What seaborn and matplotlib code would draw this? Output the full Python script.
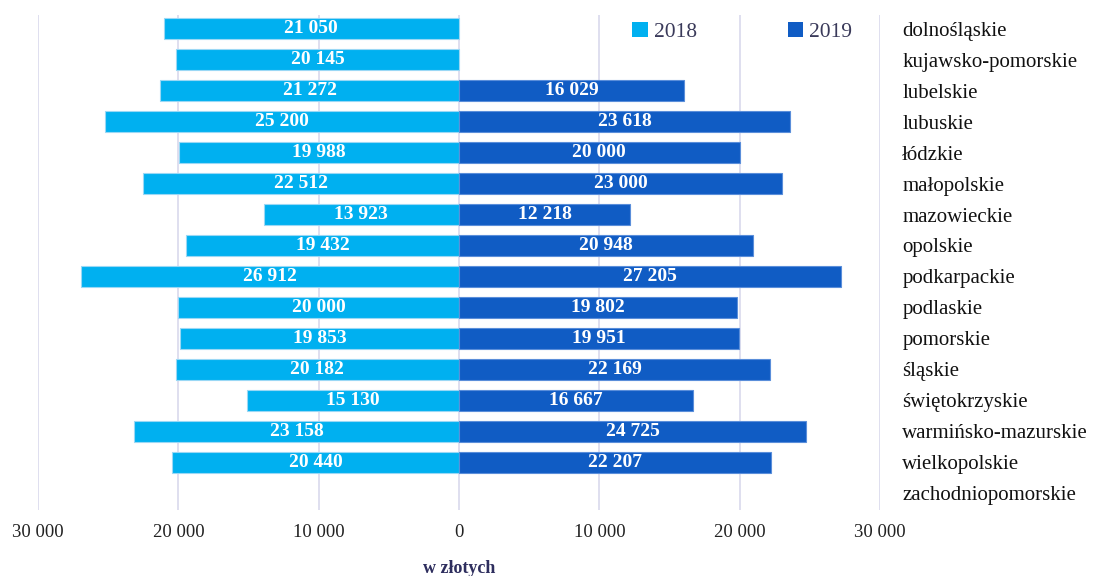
import numpy as np
import pandas as pd
import matplotlib
matplotlib.use("Agg")
import matplotlib.pyplot as plt
import seaborn as sns
from matplotlib.patches import Patch

# --- data ---
regions = ['dolnośląskie', 'kujawsko-pomorskie', 'lubelskie', 'lubuskie', 'łódzkie',
           'małopolskie', 'mazowieckie', 'opolskie', 'podkarpackie', 'podlaskie',
           'pomorskie', 'śląskie', 'świętokrzyskie', 'warmińsko-mazurskie',
           'wielkopolskie', 'zachodniopomorskie']
val_2018 = [21050, 20145, 21272, 25200, 19988, 22512, 13923, 19432, 26912, 20000,
            19853, 20182, 15130, 23158, 20440, np.nan]
val_2019 = [np.nan, np.nan, 16029, 23618, 20000, 23000, 12218, 20948, 27205, 19802,
            19951, 22169, 16667, 24725, 22207, np.nan]
years = ['2018', '2019']
colors = ['#00B0F0', '#105CC4']
ticks = [-30000, -20000, -10000, 0, 10000, 20000, 30000]

df = pd.DataFrame({'region': regions, 'v2018': val_2018, 'v2019': val_2019})
df['left'] = -df['v2018']

def fmt(v):
    return f"{int(round(abs(v))):,}".replace(",", " ")

sns.set_theme(style="white")
plt.rcParams['font.family'] = ['Liberation Serif', 'DejaVu Serif']

fig = plt.figure(figsize=(11.09, 5.76), dpi=100)
ax = fig.add_axes([38 / 1109, 1 - 510 / 576, (880 - 38) / 1109, (510 - 15) / 576])

for col, c in [('left', colors[0]), ('v2019', colors[1])]:
    sns.barplot(data=df, x=col, y='region', order=regions, color=c, width=0.68,
                orient='h', ax=ax, edgecolor='#9AD8F5' if col == 'left' else '#5A8EDA',
                linewidth=0.8, saturation=1)

for cont, series in zip(ax.containers, [val_2018, val_2019]):
    vals = [v for v in series if not np.isnan(v)]
    ax.bar_label(cont, labels=[fmt(v) for v in vals], label_type='center',
                 color='white', fontsize=14, fontweight='bold')

ax.set_xlim(-30000, 30000)
ax.set_ylim(len(regions) - 0.45, -0.45)
ax.set_xticks(ticks)
ax.set_xticklabels([fmt(t) for t in ticks], fontsize=13.5, color='#222222')
ax.tick_params(axis='x', length=0, pad=10)
for t in ticks:
    ax.axvline(t, color='#D9D9EC', lw=1.2, zorder=0)

ax.yaxis.tick_right()
ax.set_yticks(range(len(regions)))
ax.set_yticklabels(regions, fontsize=15, color='#111111')
ax.tick_params(axis='y', length=0, pad=16)
for lab in ax.get_yticklabels():
    lab.set_horizontalalignment('left')

ax.set_xlabel('w złotych', fontsize=13, fontweight='bold', color='#2E2E5E', labelpad=14)
ax.set_ylabel('')
for s in ax.spines.values():
    s.set_visible(False)

handles = [Patch(facecolor=c, edgecolor='none') for c in colors]
leg = ax.legend(handles, years, loc='upper left', bbox_to_anchor=(0.683, 1.025), ncol=2,
                frameon=False, fontsize=15.5, handlelength=0.7, handleheight=0.7,
                handletextpad=0.3, columnspacing=4.2)
for t in leg.get_texts():
    t.set_color('#3A3A5A')

fig.savefig('out.png', dpi=100)
